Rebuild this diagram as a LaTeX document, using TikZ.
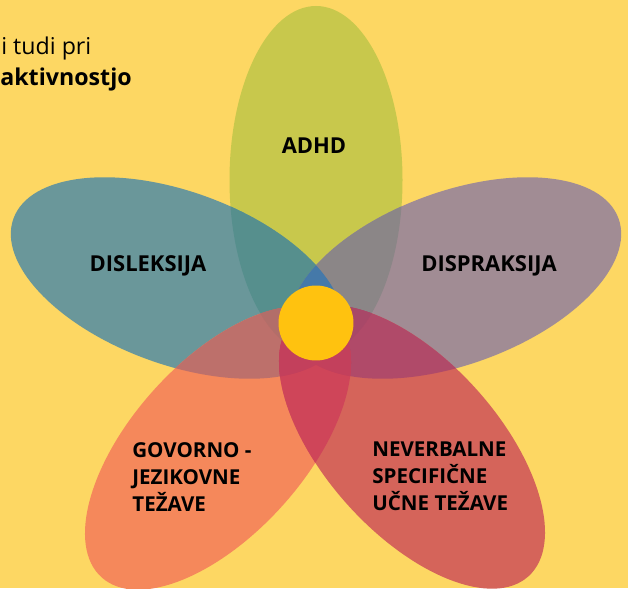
\documentclass[tikz,border=0pt]{standalone}
\usepackage{fontspec}
\setmainfont{Open Sans}
\usetikzlibrary{positioning}

\definecolor{bgyellow}{HTML}{FDD763}
\definecolor{cTop}{HTML}{C8C84C}
\definecolor{cLeft}{HTML}{6A979A}
\definecolor{cRight}{HTML}{A18C94}
\definecolor{cBL}{HTML}{F5885B}
\definecolor{cBR}{HTML}{D5645A}
\definecolor{cCore}{HTML}{FFC20F}
\definecolor{cTL}{HTML}{568F8D}
\definecolor{cTR}{HTML}{8B8687}
\definecolor{cTLR}{HTML}{4579A9}
\definecolor{cLBL}{HTML}{BD706B}
\definecolor{cRBR}{HTML}{B04A69}
\definecolor{cBLBR}{HTML}{CF4559}
\definecolor{cLBR}{HTML}{C3405C}
\definecolor{cTBL}{HTML}{B46F6A}
\definecolor{cTBR}{HTML}{A94968}
\definecolor{cTLBL}{HTML}{B26E69}
\definecolor{cTRBR}{HTML}{A84868}

\begin{document}
\begin{tikzpicture}[x=0.02cm,y=-0.02cm,
    petaltext/.style={font=\bfseries\fontsize{12.5}{15.3}\selectfont,
                inner sep=0pt, align=left},
    smalltext/.style={petaltext,font=\bfseries\fontsize{11.7}{15.3}\selectfont},
    p-top/.style={shift={(316,180)},rotate=90},
    p-left/.style={shift={(177,278)},rotate=-20},
    p-right/.style={shift={(455,278)},rotate=20},
    p-bl/.style={shift={(218,448)},rotate=48},
    p-br/.style={shift={(412,447)},rotate=-48}]

    \fill[bgyellow] (0,0) rectangle (628,588);
    \useasboundingbox (0,0) rectangle (628,588);

    % petals
    \foreach \p/\c in {top/cTop,left/cLeft,right/cRight,bl/cBL,br/cBR}
        \fill[p-\p,\c] (0,0) ellipse (174 and 86.5);

    % overlaps of two petals
    \foreach \a/\b/\c in {top/left/cTL,top/right/cTR,left/bl/cLBL,
            right/br/cRBR,bl/br/cBLBR,left/br/cLBR,right/bl/cLBR,
            top/bl/cTBL,top/br/cTBR}{
        \begin{scope}
            \clip[p-\a] (0,0) ellipse (174 and 86.5);
            \fill[p-\b,\c] (0,0) ellipse (174 and 86.5);
        \end{scope}
    }

    % overlaps of three petals
    \foreach \a/\b/\d/\c in {top/left/right/cTLR,bl/br/left/cLBR,
            bl/br/right/cLBR,top/left/bl/cTLBL,top/right/br/cTRBR}{
        \begin{scope}
            \clip[p-\a] (0,0) ellipse (174 and 86.5);
            \clip[p-\b] (0,0) ellipse (174 and 86.5);
            \fill[p-\d,\c] (0,0) ellipse (174 and 86.5);
        \end{scope}
    }

    \node[circle,fill=cCore,inner sep=0pt,minimum size=1.5cm] (core) at (316,323) {};

    \node[petaltext] (adhd) at (314,146) {ADHD};
    \node[petaltext] (dis) at (148,266) {DISLEKSIJA};
    \node[petaltext] (disp) at (489,266) {DISPRAKSIJA};
    \node[smalltext,anchor=west] (gov) at (132,477) {GOVORNO -\\JEZIKOVNE\\TEŽAVE};
    \node[smalltext,anchor=west] (nev) at (372,476) {NEVERBALNE\\SPECIFIČNE\\UČNE TEŽAVE};

    \node[anchor=base west,inner sep=0pt,font=\fontsize{13.2}{16}\selectfont] (intro) at (1,55) {i tudi pri};
    \node[anchor=base west,inner sep=0pt,font=\bfseries\fontsize{13.2}{16}\selectfont] (hyper) at (0,86) {aktivnostjo};

\end{tikzpicture}
\end{document}
